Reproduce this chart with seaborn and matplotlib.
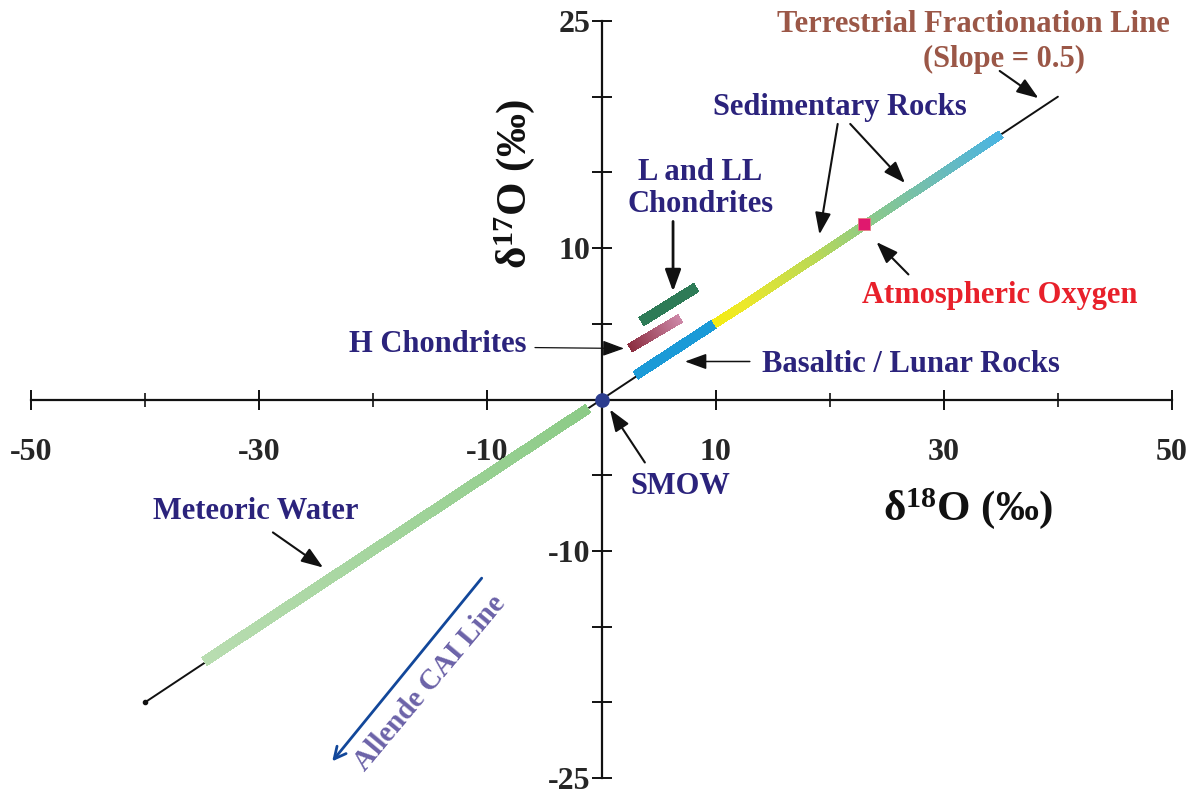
import numpy as np
import pandas as pd
import matplotlib
matplotlib.use("Agg")
import matplotlib.pyplot as plt
from matplotlib.collections import LineCollection
from matplotlib.colors import LinearSegmentedColormap
import seaborn as sns

# ---------------- data ----------------
tfl_x = [-40.0, 40.0]
tfl_y = [-20.0, 20.0]

meteoric_x = [-34.8, -1.2]
meteoric_y = [-17.3, -0.6]
meteoric_colors = ["#b9ddb1", "#8ccb87"]

basaltic_x = [3.0, 9.9]
basaltic_y = [1.6, 5.0]
basaltic_colors = ["#1b9ad7", "#1b9ad7"]

sedimentary_x = [9.9, 12.5, 19.0, 23.0, 29.0, 35.0]
sedimentary_y = [5.0, 6.25, 9.5, 11.5, 14.5, 17.5]
sedimentary_colors = ["#f4ec10", "#ece82a", "#b8d858", "#8fcb85", "#6fbdb4", "#4ab4e2"]

h_chond_x = [2.5, 6.9]
h_chond_y = [3.4, 5.35]
h_chond_colors = ["#8b2d3f", "#cc86a6"]

l_chond_x = [3.5, 8.3]
l_chond_y = [5.15, 7.4]
l_chond_colors = ["#2e7b57", "#2e7b57"]

smow_x, smow_y = [0.0], [0.0]
atm_x, atm_y = [23.0], [11.6]

allende_start = (-10.5, -11.8)
allende_end = (-23.6, -23.9)

x_major = [-50, -30, -10, 10, 30, 50]
x_minor = [-40, -20, 20, 40]
y_major = [25, 10, -10, -25]
y_minor = [20, 15, 5, -5, -15, -20]

NAVY = "#2b237c"
BROWN = "#9b5747"
RED = "#e8202a"

# ---------------- style ----------------
sns.set_theme(style="white")
plt.rcParams["font.family"] = ["Liberation Serif", "DejaVu Serif"]
plt.rcParams["font.weight"] = "bold"
plt.rcParams["mathtext.fontset"] = "custom"
plt.rcParams["mathtext.rm"] = "Liberation Serif:bold"
plt.rcParams["mathtext.bf"] = "Liberation Serif:bold"
plt.rcParams["mathtext.default"] = "rm"

fig = plt.figure(figsize=(11.96, 7.96), dpi=100)
ax = fig.add_axes([31 / 1196, 18 / 796, (1172 - 31) / 1196, (778 - 21) / 796])
ax.set_xlim(-50, 50)
ax.set_ylim(-25, 25)

# axes through origin
for s in ["top", "right"]:
    ax.spines[s].set_visible(False)
ax.spines["left"].set_position(("data", 0))
ax.spines["bottom"].set_position(("data", 0))
for s in ["left", "bottom"]:
    ax.spines[s].set_linewidth(1.6)
    ax.spines[s].set_color("#111111")
    ax.spines[s].set_zorder(1)

ax.set_xticks(x_major)
ax.set_xticks(x_minor, minor=True)
ax.set_yticks(y_major)
ax.set_yticks(y_minor, minor=True)
ax.set_xticklabels([str(v) for v in x_major])
ax.set_yticklabels([str(v) for v in y_major])
ax.tick_params(which="both", bottom=True, left=True, top=False, right=False)
ax.tick_params(axis="x", which="major", direction="inout", length=15, width=1.4,
               color="#111111", labelsize=23, pad=20)
ax.tick_params(axis="x", which="minor", direction="inout", length=10, width=1.2,
               color="#111111")
ax.tick_params(axis="y", which="both", direction="inout", length=14, width=1.4,
               color="#111111", labelsize=23, pad=1)
for lab in ax.get_xticklabels() + ax.get_yticklabels():
    lab.set_fontweight("bold")
for lab in ax.get_yticklabels():
    lab.set_verticalalignment("center_baseline")
ax.grid(False)

# terrestrial fractionation line
tfl = pd.DataFrame({"x": tfl_x, "y": tfl_y})
sns.lineplot(data=tfl, x="x", y="y", ax=ax, color="#111111", lw=1.4, zorder=2,
             legend=False)
ax.plot([tfl_x[0]], [tfl_y[0]], "o", color="#111111", ms=3, zorder=2)
ax.set_xlabel("")
ax.set_ylabel("")


def gradient_bar(xs, ys, colors, lw, z=3, n=120):
    xs = np.asarray(xs, float)
    ys = np.asarray(ys, float)
    # relative positions of color stops along the bar
    d = np.concatenate([[0], np.cumsum(np.hypot(np.diff(xs), np.diff(ys)))])
    pos = d / d[-1]
    cmap = LinearSegmentedColormap.from_list("g", list(zip(pos, colors)))
    t = np.linspace(0, 1, n + 1)
    px = np.interp(t, pos, xs)
    py = np.interp(t, pos, ys)
    pts = np.column_stack([px, py]).reshape(-1, 1, 2)
    segs = np.concatenate([pts[:-1], pts[1:]], axis=1)
    tm = 0.5 * (t[:-1] + t[1:])
    lc = LineCollection(segs, colors=cmap(tm), linewidths=lw, capstyle="butt",
                        zorder=z, antialiaseds=False)
    ax.add_collection(lc)


gradient_bar(meteoric_x, meteoric_y, meteoric_colors, 6.8)
gradient_bar(basaltic_x, basaltic_y, basaltic_colors, 6.5)
gradient_bar(sedimentary_x, sedimentary_y, sedimentary_colors, 5.8)
gradient_bar(h_chond_x, h_chond_y, h_chond_colors, 6.2)
gradient_bar(l_chond_x, l_chond_y, l_chond_colors, 6.8)

ax.plot(smow_x, smow_y, "o", color="#2c3d8f", ms=9.5, zorder=5)
ax.plot(atm_x, atm_y, "s", color="#e0186e", mec="#e87a80", mew=0.6, ms=8, zorder=5)

# ---------------- annotations ----------------
arrow_kw = dict(arrowstyle="-|>,head_length=1.1,head_width=0.4", color="#111111",
                lw=1.5, shrinkA=0, shrinkB=0)


def arrow(tail, head, **kw):
    a = dict(arrow_kw)
    a.update(kw)
    ax.annotate("", xy=head, xytext=tail, arrowprops=a, zorder=6)


arrow((34.9, 21.7), (38.3, 19.9))
arrow((20.7, 18.2), (19.1, 10.9))
arrow((21.8, 18.2), (26.6, 14.3))
arrow((6.27, 11.76), (6.27, 7.13), lw=2.0)
arrow((-5.83, 3.43), (1.97, 3.37), lw=0.9)
arrow((13.0, 2.51), (7.32, 2.51), lw=1.1)
arrow((26.9, 8.26), (24.1, 10.4))
arrow((3.8, -4.16), (0.74, -0.66))
arrow((-28.8, -8.78), (-24.4, -11.1))
ax.annotate("", xy=allende_end, xytext=allende_start,
            arrowprops=dict(arrowstyle="->,head_length=0.7,head_width=0.35",
                            color="#12479a", lw=2.0, shrinkA=0, shrinkB=0), zorder=6)

tk = dict(fontweight="bold", fontsize=22, color=NAVY, zorder=7)
ax.text(32.6, 24.75, "Terrestrial Fractionation Line", ha="center", va="center",
        **{**tk, "color": BROWN})
ax.text(35.3, 22.45, "(Slope = 0.5)", ha="center", va="center", **{**tk, "color": BROWN})
ax.text(20.9, 19.3, "Sedimentary Rocks", ha="center", va="center", **tk)
ax.text(8.64, 13.94, "L and LL\nChondrites", ha="center", va="center",
        linespacing=1.1, **tk)
ax.text(-6.53, 3.63, "H Chondrites", ha="right", va="center", **tk)
ax.text(14.06, 2.31, "Basaltic / Lunar Rocks", ha="left", va="center", **tk)
ax.text(22.8, 6.87, "Atmospheric Oxygen", ha="left", va="center", **{**tk, "color": RED})
ax.text(6.88, -5.75, "SMOW", ha="center", va="center", **tk)
ax.text(-30.3, -7.4, "Meteoric Water", ha="center", va="center", **tk)
ax.text(-15.0, -18.75, "Allende CAI Line", ha="center", va="center",
        rotation=50, rotation_mode="anchor", **{**tk, "fontsize": 21, "color": "#6b62a8"})

ax.text(32.1, -7.2, "δ$^{18}$O (‰)", ha="center", va="center", fontsize=31,
        fontweight="bold", color="#111111")
ax.text(-7.58, 14.2, "δ$^{17}$O (‰)", ha="center", va="center", fontsize=31,
        fontweight="bold", color="#111111", rotation=90)

fig.savefig("out.png", dpi=100)
